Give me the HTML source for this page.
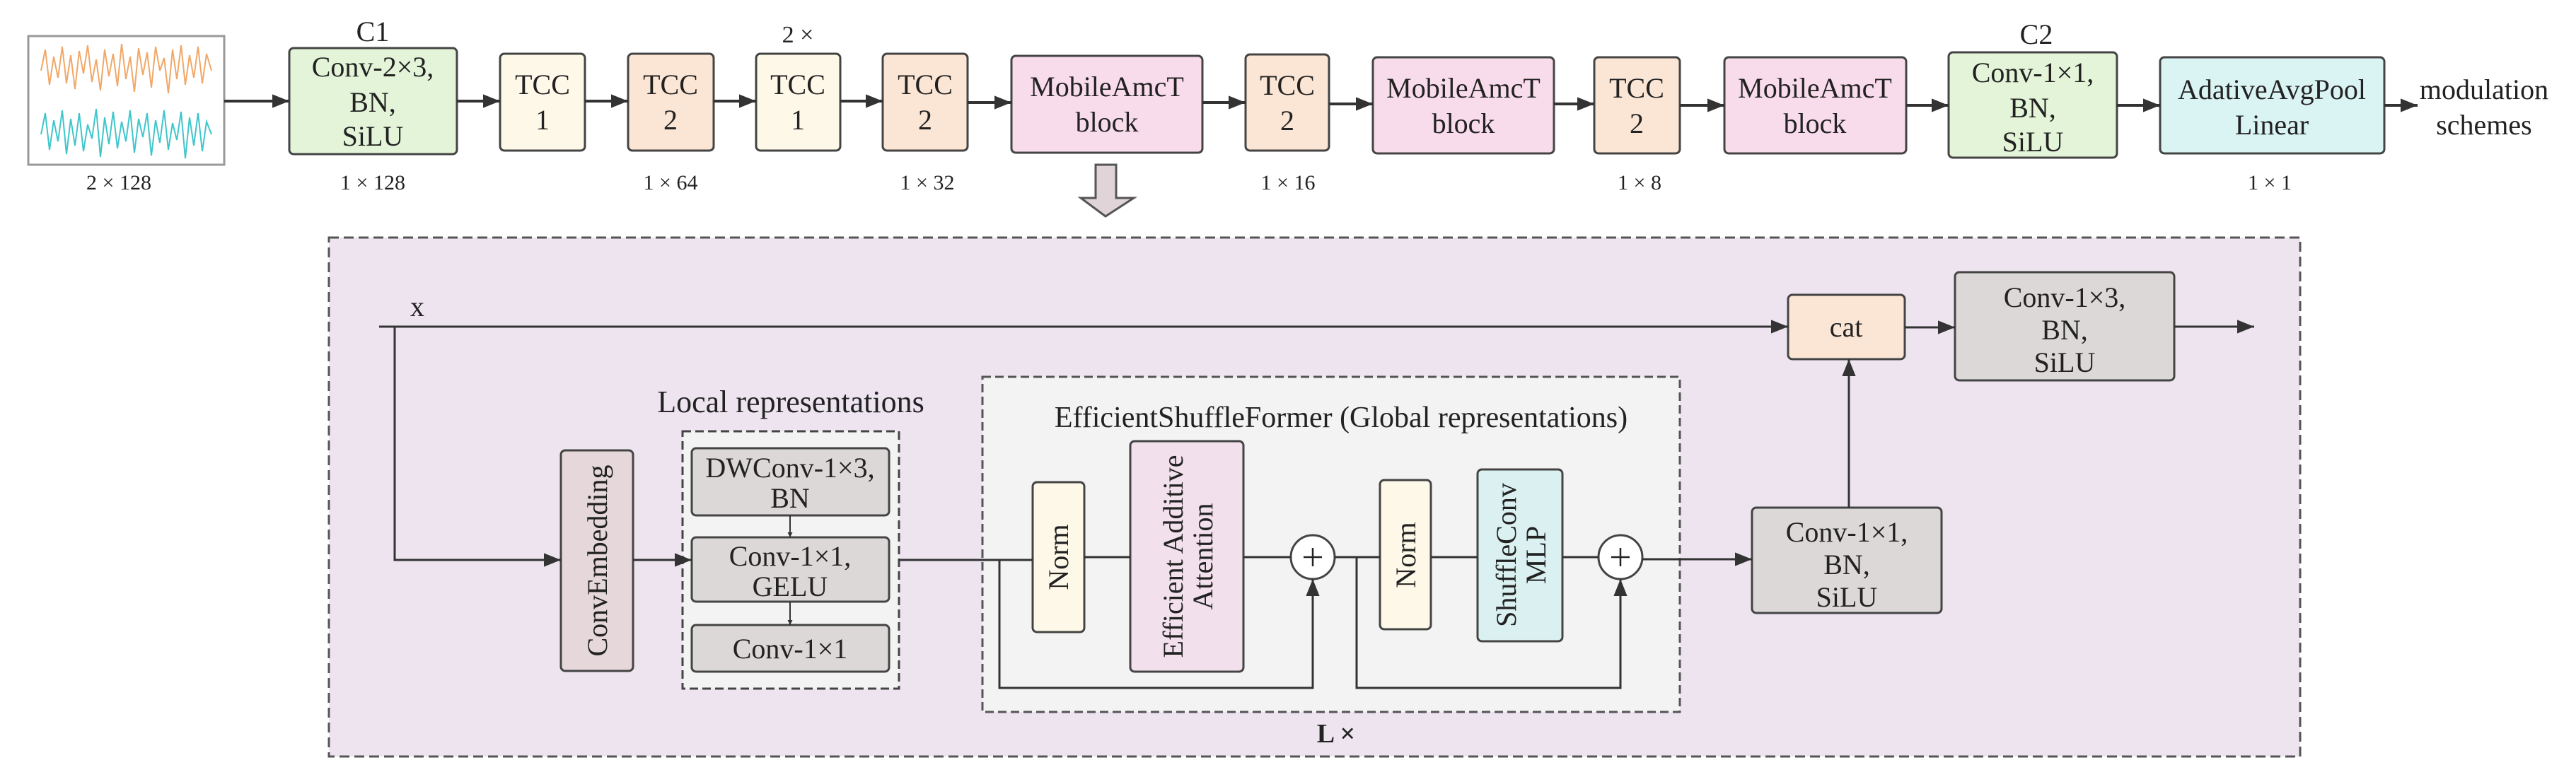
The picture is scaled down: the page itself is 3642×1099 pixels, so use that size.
<!DOCTYPE html>
<html><head><meta charset="utf-8"><style>body{margin:0;background:#fff}svg{display:block}svg text,svg{font-family:"Liberation Serif","Tinos","Times New Roman","Noto Serif CJK SC","DejaVu Serif",serif !important}</style></head>
<body>
<svg width="3642" height="1099" viewBox="0 0 3642 1099" xmlns="http://www.w3.org/2000/svg" fill="#222">
<defs>
<marker id="a" viewBox="0 0 10 10" refX="10" refY="5" markerWidth="7" markerHeight="7" orient="auto" markerUnits="userSpaceOnUse"><path d="M0,0L10,5L0,10z" fill="#333"/></marker>
<marker id="b" viewBox="0 0 10 10" refX="10" refY="5" markerWidth="24" markerHeight="24" orient="auto" markerUnits="userSpaceOnUse"><path d="M0,1L10,5L0,9z" fill="#333"/></marker>
</defs>
<g stroke="#444" stroke-width="3">
<rect x="40" y="51" width="277" height="182" fill="#fff" stroke="#999"/>
</g>
<polyline fill="none" stroke="#f0a868" stroke-width="2" points="58,100 64,70 70,120 76,80 82,110 88,66 94,118 100,78 106,126 112,72 118,104 124,64 130,116 136,84 142,128 148,70 154,108 160,76 166,122 172,62 178,112 184,80 190,130 196,68 202,106 208,74 214,124 220,66 226,100 232,82 238,132 244,70 250,112 256,64 262,120 268,78 274,110 280,66 286,118 292,76 299,100"/>
<polyline fill="none" stroke="#3fc6cc" stroke-width="2" points="58,190 64,160 70,212 76,170 82,200 88,156 94,218 100,168 106,206 112,160 118,214 124,176 130,196 136,154 142,222 148,166 154,204 160,158 166,210 172,172 178,200 184,156 190,216 196,168 202,194 208,160 214,220 220,170 226,202 232,156 238,212 244,174 250,198 256,158 262,224 268,166 274,206 280,160 286,214 292,172 299,190"/>
<g stroke="#444" stroke-width="3">
<rect x="409" y="68" width="237" height="150" rx="6" fill="#e3f4d8"/>
<rect x="707" y="76" width="120" height="137" rx="6" fill="#fdf8e8"/>
<rect x="888" y="76" width="121" height="137" rx="6" fill="#fbe5d4"/>
<rect x="1069" y="76" width="119" height="137" rx="6" fill="#fdf8e8"/>
<rect x="1248" y="76" width="120" height="137" rx="6" fill="#fbe5d4"/>
<rect x="1430" y="79" width="270" height="137" rx="6" fill="#f9dcec"/>
<rect x="1761" y="77" width="118" height="136" rx="6" fill="#fbe5d4"/>
<rect x="1941" y="81" width="256" height="136" rx="6" fill="#f9dcec"/>
<rect x="2254" y="81" width="121" height="136" rx="6" fill="#fbe5d4"/>
<rect x="2438" y="81" width="257" height="136" rx="6" fill="#f9dcec"/>
<rect x="2755" y="74" width="238" height="149" rx="6" fill="#e3f4d8"/>
<rect x="3054" y="81" width="317" height="136" rx="6" fill="#daf3f3"/>
</g>
<g stroke="#333" stroke-width="4" marker-end="url(#b)">
<line x1="317" y1="143" x2="409" y2="143"/><line x1="646" y1="143" x2="707" y2="143"/>
<line x1="827" y1="143" x2="888" y2="143"/><line x1="1009" y1="143" x2="1069" y2="143"/>
<line x1="1188" y1="143" x2="1248" y2="143"/><line x1="1368" y1="145" x2="1430" y2="145"/>
<line x1="1700" y1="145" x2="1761" y2="145"/><line x1="1879" y1="147" x2="1941" y2="147"/>
<line x1="2197" y1="147" x2="2254" y2="147"/><line x1="2375" y1="149" x2="2438" y2="149"/>
<line x1="2695" y1="149" x2="2755" y2="149"/><line x1="2993" y1="149" x2="3054" y2="149"/>
<line x1="3371" y1="149" x2="3418" y2="149"/>
</g>
<path d="M1549,233H1578V280H1603L1563,306L1528,280H1549Z" fill="#e0d4d8" stroke="#555" stroke-width="3"/>
<g font-size="40" text-anchor="middle">
<text x="527" y="58">C1</text>
<text x="527" y="108">Conv-2×3,</text><text x="527" y="158">BN,</text><text x="527" y="206">SiLU</text>
<text x="767" y="133">TCC</text><text x="767" y="183">1</text>
<text x="948" y="133">TCC</text><text x="948" y="183">2</text>
<text x="1128" y="60" font-size="34">2 ×</text>
<text x="1128" y="133">TCC</text><text x="1128" y="183">1</text>
<text x="1308" y="133">TCC</text><text x="1308" y="183">2</text>
<text x="1565" y="136">MobileAmcT</text><text x="1565" y="186">block</text>
<text x="1820" y="134">TCC</text><text x="1820" y="184">2</text>
<text x="2069" y="138">MobileAmcT</text><text x="2069" y="188">block</text>
<text x="2314" y="138">TCC</text><text x="2314" y="188">2</text>
<text x="2566" y="138">MobileAmcT</text><text x="2566" y="188">block</text>
<text x="2879" y="62">C2</text>
<text x="2874" y="116">Conv-1×1,</text><text x="2874" y="166">BN,</text><text x="2874" y="214">SiLU</text>
<text x="3212" y="140">AdativeAvgPool</text><text x="3212" y="190">Linear</text>
<text x="3512" y="140">modulation</text><text x="3512" y="190">schemes</text>
</g>
<g font-size="30" text-anchor="middle">
<text x="168" y="268">2 × 128</text><text x="527" y="268">1 × 128</text><text x="948" y="268">1 × 64</text>
<text x="1311" y="268">1 × 32</text><text x="1821" y="268">1 × 16</text><text x="2318" y="268">1 × 8</text><text x="3209" y="268">1 × 1</text>
</g>
<rect x="465" y="336" width="2787" height="734" fill="#ede4f0" stroke="#555" stroke-width="3" stroke-dasharray="14,7"/>
<rect x="965" y="610" width="306" height="364" fill="#f3f3f3" stroke="#444" stroke-width="3" stroke-dasharray="12,6"/>
<rect x="1389" y="533" width="986" height="474" fill="#f3f3f3" stroke="#555" stroke-width="3" stroke-dasharray="12,6"/>
<g stroke="#444" stroke-width="3">
<rect x="793" y="637" width="102" height="312" rx="6" fill="#e6d8da"/>
<rect x="978" y="634" width="279" height="95" rx="6" fill="#ddd8d8"/>
<rect x="978" y="760" width="279" height="91" rx="6" fill="#ddd8d8"/>
<rect x="978" y="884" width="279" height="66" rx="6" fill="#ddd8d8"/>
<rect x="1460" y="682" width="73" height="212" rx="6" fill="#fdf8e8"/>
<rect x="1598" y="624" width="160" height="326" rx="6" fill="#f2e0ec"/>
<rect x="1951" y="679" width="72" height="211" rx="6" fill="#fdf8e8"/>
<rect x="2089" y="664" width="120" height="243" rx="6" fill="#dbf0f0"/>
<rect x="2528" y="417" width="165" height="91" rx="6" fill="#fbe5d4"/>
<rect x="2764" y="385" width="310" height="153" rx="6" fill="#ddd8d8"/>
<rect x="2477" y="718" width="268" height="149" rx="6" fill="#ddd8d8"/>
<circle cx="1856" cy="788" r="31" fill="#fff"/>
<circle cx="2291" cy="788" r="31" fill="#fff"/>
</g>
<g stroke="#333" stroke-width="3" fill="none">
<line x1="536" y1="462" x2="2528" y2="462" marker-end="url(#b)"/>
<polyline points="558,462 558,792 793,792" marker-end="url(#b)"/>
<line x1="895" y1="792" x2="978" y2="792" marker-end="url(#b)"/>
<line x1="1117" y1="729" x2="1117" y2="760" marker-end="url(#a)" stroke-width="2"/>
<line x1="1117" y1="851" x2="1117" y2="884" marker-end="url(#a)" stroke-width="2"/>
<line x1="1271" y1="792" x2="1460" y2="792"/>
<line x1="1533" y1="788" x2="1598" y2="788"/>
<line x1="1758" y1="788" x2="1825" y2="788"/>
<polyline points="1413,792 1413,973 1856,973 1856,819" marker-end="url(#b)"/>
<line x1="1887" y1="788" x2="1951" y2="788"/>
<line x1="2023" y1="788" x2="2089" y2="788"/>
<line x1="2209" y1="788" x2="2260" y2="788"/>
<polyline points="1918,788 1918,973 2291,973 2291,819" marker-end="url(#b)"/>
<line x1="2322" y1="791" x2="2477" y2="791" marker-end="url(#b)"/>
<line x1="2614" y1="718" x2="2614" y2="508" marker-end="url(#b)"/>
<line x1="2693" y1="463" x2="2764" y2="463" marker-end="url(#b)"/>
<line x1="3074" y1="462" x2="3187" y2="462" marker-end="url(#b)"/>
</g>
<g stroke="#222" stroke-width="2.5">
<line x1="1856" y1="775" x2="1856" y2="801"/><line x1="1843" y1="788" x2="1869" y2="788"/>
<line x1="2291" y1="775" x2="2291" y2="801"/><line x1="2278" y1="788" x2="2304" y2="788"/>
</g>
<g font-size="40" text-anchor="middle">
<text x="590" y="447">x</text>
<text x="1118" y="583" font-size="44">Local representations</text>
<text x="1117" y="675">DWConv-1×3,</text><text x="1117" y="718">BN</text>
<text x="1117" y="800">Conv-1×1,</text><text x="1117" y="843">GELU</text>
<text x="1117" y="931">Conv-1×1</text>
<text x="1896" y="604" font-size="42">EfficientShuffleFormer (Global representations)</text>
<text transform="translate(858,793) rotate(-90)">ConvEmbedding</text>
<text transform="translate(1510,788) rotate(-90)">Norm</text>
<text transform="translate(1672,787) rotate(-90)">Efficient Additive</text>
<text transform="translate(1714,787) rotate(-90)">Attention</text>
<text transform="translate(2001,785) rotate(-90)">Norm</text>
<text transform="translate(2143,785) rotate(-90)">ShuffleConv</text>
<text transform="translate(2185,785) rotate(-90)">MLP</text>
<text x="2610" y="476">cat</text>
<text x="2919" y="434">Conv-1×3,</text><text x="2919" y="480">BN,</text><text x="2919" y="526">SiLU</text>
<text x="2611" y="766">Conv-1×1,</text><text x="2611" y="812">BN,</text><text x="2611" y="858">SiLU</text>
<text x="1889" y="1050" font-size="38" font-weight="bold">L ×</text>
</g>
</svg>
</body></html>
